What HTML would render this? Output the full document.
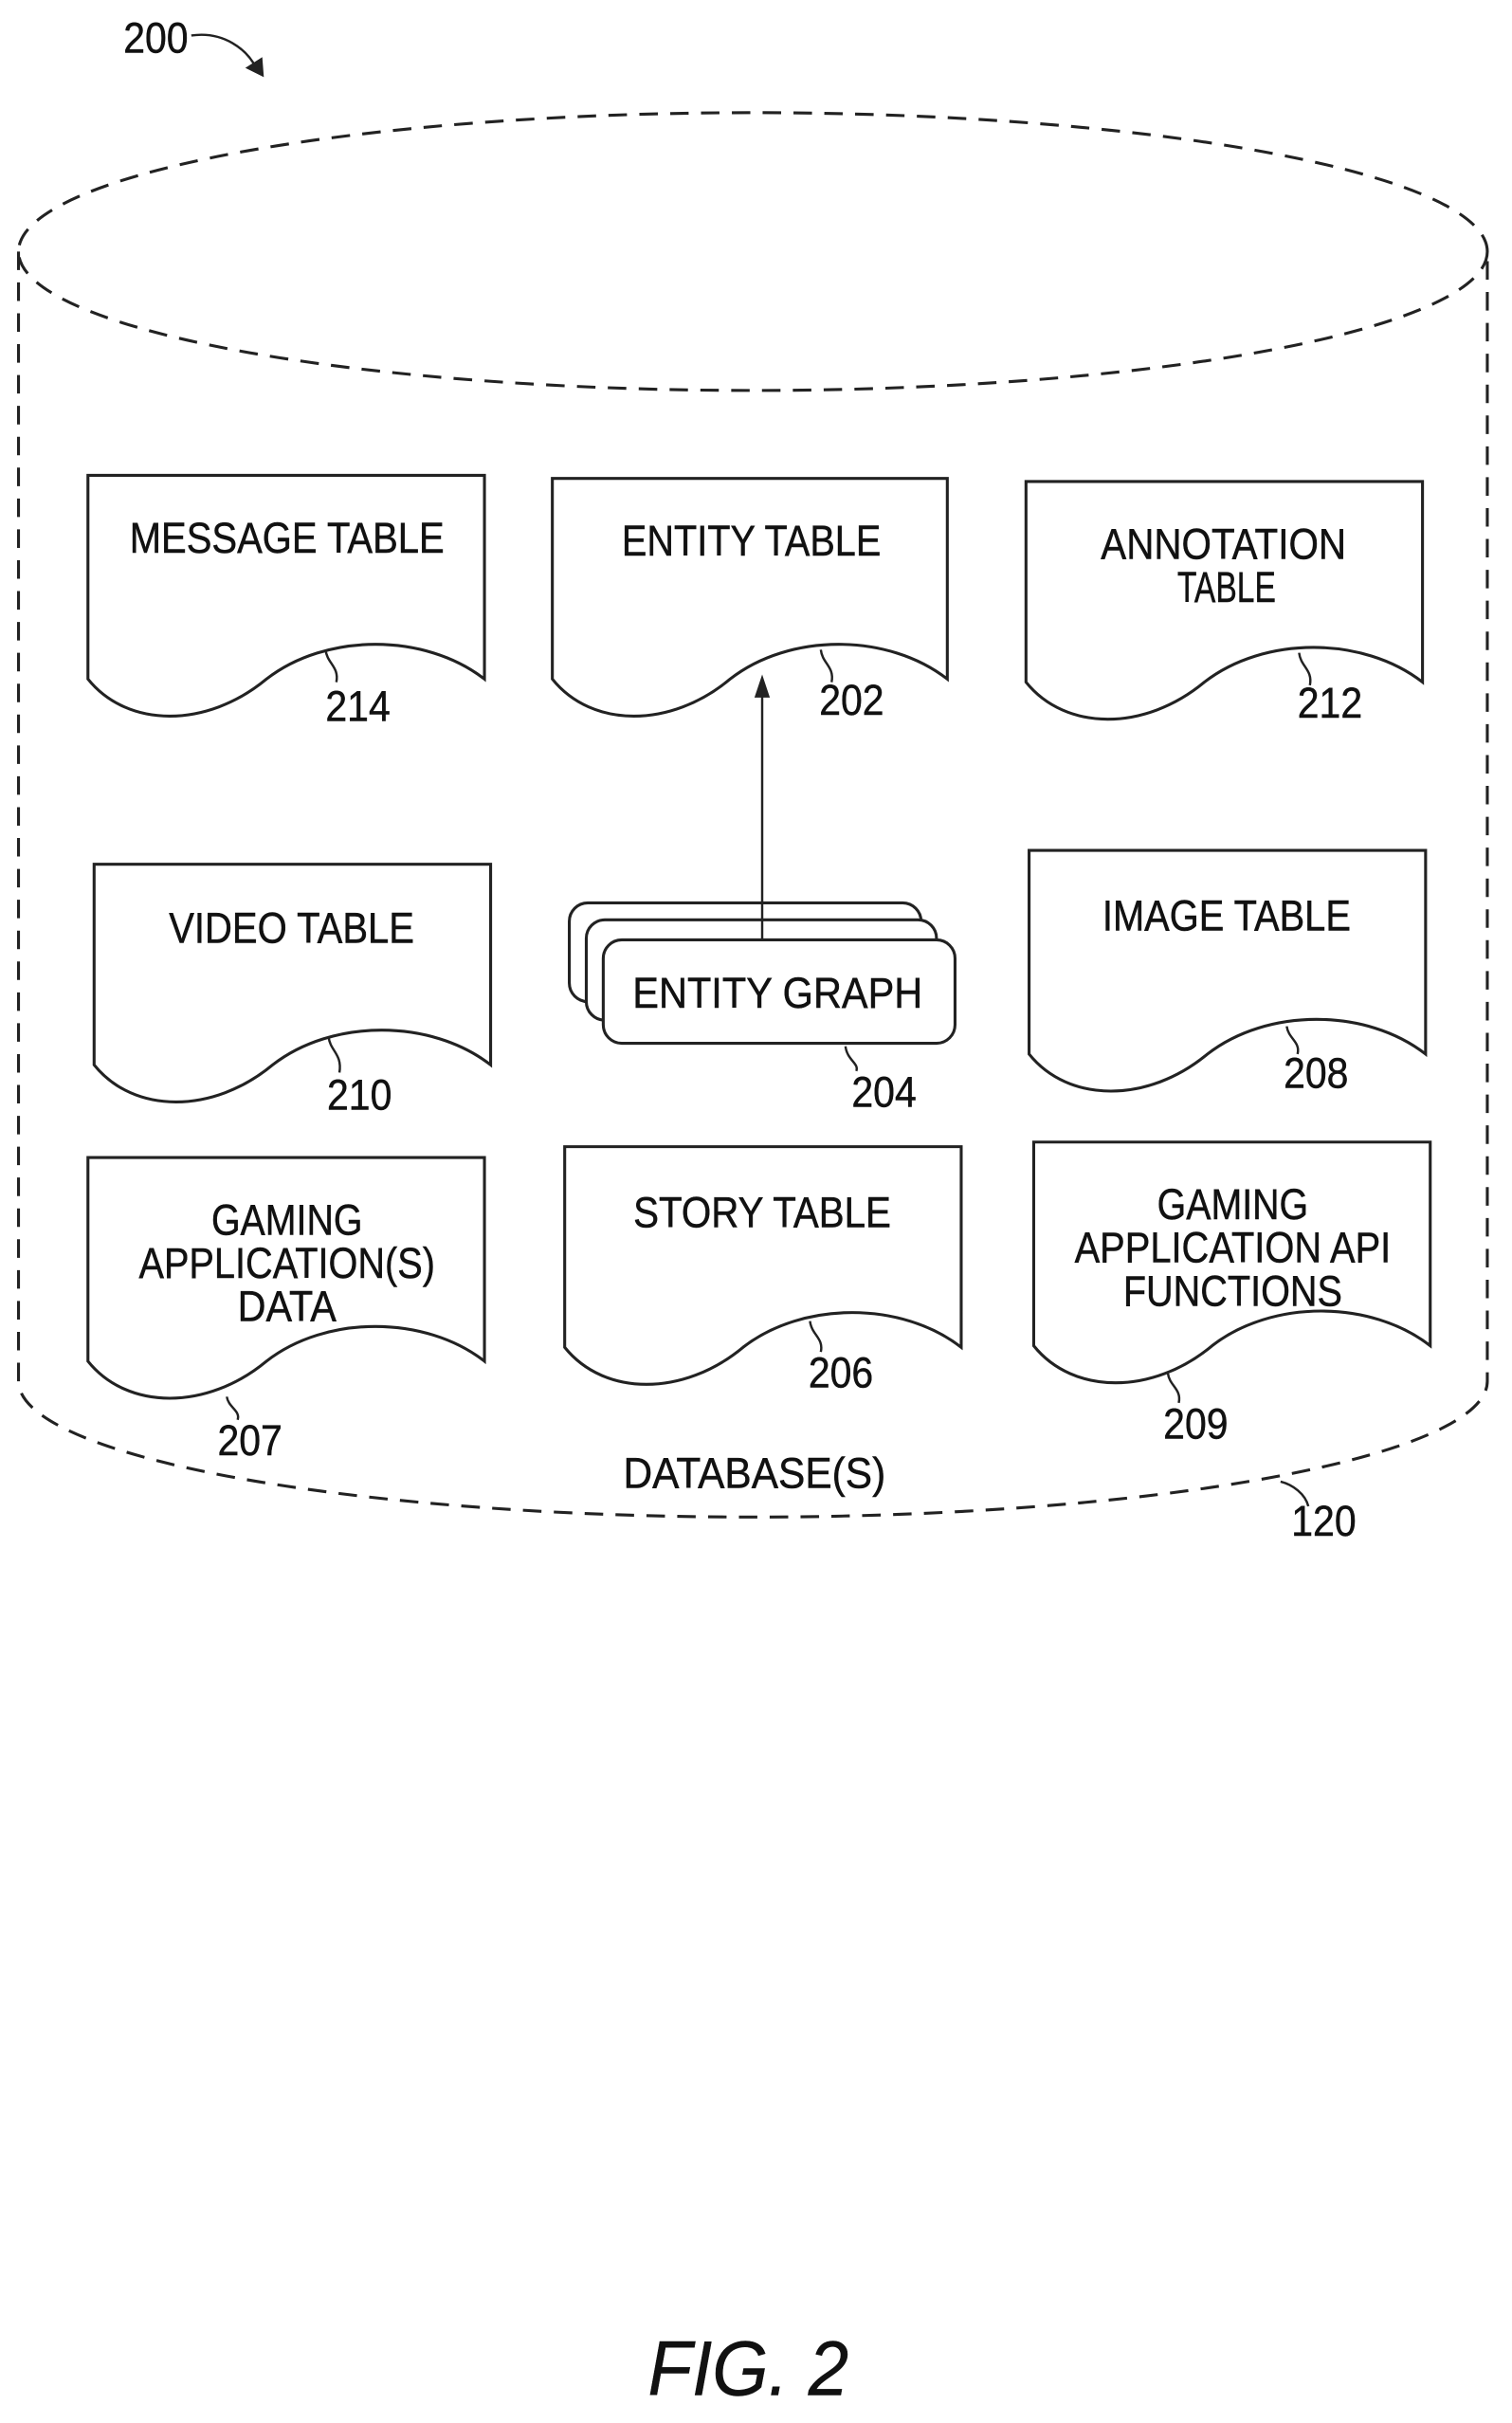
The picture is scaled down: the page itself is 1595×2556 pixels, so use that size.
<!DOCTYPE html>
<html><head><meta charset="utf-8"><style>
html,body{margin:0;padding:0;background:#fff;}
svg{display:block;}
text{font-family:"Liberation Sans",sans-serif;fill:#111;stroke:#111;stroke-width:0.3;}
</style></head><body>
<svg width="1595" height="2556" viewBox="0 0 980 1570" preserveAspectRatio="none" xmlns="http://www.w3.org/2000/svg">
<g fill="none" stroke="#222" stroke-width="1.9" stroke-dasharray="12,8">
<ellipse cx="488" cy="163" rx="476" ry="90"/>
<path d="M12,163 V895 A476,88 0 0 0 964,895 V163"/>
</g>
<g fill="none" stroke="#222" stroke-width="1.9" id="docs"></g>
<g font-size="28" text-anchor="middle">
<text x="186" y="358" textLength="204" lengthAdjust="spacingAndGlyphs">MESSAGE TABLE</text>
<text x="487" y="360" textLength="168" lengthAdjust="spacingAndGlyphs">ENTITY TABLE</text>
<text x="793" y="362" textLength="159" lengthAdjust="spacingAndGlyphs">ANNOTATION</text>
<text x="795" y="390" textLength="64" lengthAdjust="spacingAndGlyphs">TABLE</text>
<text x="232" y="467" textLength="42" lengthAdjust="spacingAndGlyphs">214</text>
<text x="552" y="463" textLength="42" lengthAdjust="spacingAndGlyphs">202</text>
<text x="862" y="465" textLength="42" lengthAdjust="spacingAndGlyphs">212</text>
<text x="189" y="611" textLength="159" lengthAdjust="spacingAndGlyphs">VIDEO TABLE</text>
<text x="795" y="603" textLength="161" lengthAdjust="spacingAndGlyphs">IMAGE TABLE</text>
<text x="233" y="719" textLength="42" lengthAdjust="spacingAndGlyphs">210</text>
<text x="573" y="717" textLength="42" lengthAdjust="spacingAndGlyphs">204</text>
<text x="853" y="705" textLength="42" lengthAdjust="spacingAndGlyphs">208</text>
<text x="186" y="800" textLength="98" lengthAdjust="spacingAndGlyphs">GAMING</text>
<text x="186" y="828" textLength="192" lengthAdjust="spacingAndGlyphs">APPLICATION(S)</text>
<text x="186" y="856" textLength="64" lengthAdjust="spacingAndGlyphs">DATA</text>
<text x="494" y="795" textLength="167" lengthAdjust="spacingAndGlyphs">STORY TABLE</text>
<text x="799" y="790" textLength="98" lengthAdjust="spacingAndGlyphs">GAMING</text>
<text x="799" y="818" textLength="205" lengthAdjust="spacingAndGlyphs">APPLICATION API</text>
<text x="799" y="846" textLength="142" lengthAdjust="spacingAndGlyphs">FUNCTIONS</text>
<text x="162" y="943" textLength="42" lengthAdjust="spacingAndGlyphs">207</text>
<text x="545" y="899" textLength="42" lengthAdjust="spacingAndGlyphs">206</text>
<text x="775" y="932" textLength="42" lengthAdjust="spacingAndGlyphs">209</text>
<text x="489" y="964" textLength="170" lengthAdjust="spacingAndGlyphs">DATABASE(S)</text>
<text x="858" y="995" textLength="42" lengthAdjust="spacingAndGlyphs">120</text>
<text x="101" y="34" textLength="42" lengthAdjust="spacingAndGlyphs">200</text>
<text x="485" y="1552" font-size="50" font-style="italic" textLength="130" lengthAdjust="spacingAndGlyphs">FIG. 2</text>
</g>
<g fill="#fff" stroke="#222" stroke-width="1.9">
<rect x="369" y="585" width="228" height="64" rx="12"/>
<rect x="380" y="596" width="227" height="65" rx="12"/>
<rect x="391" y="609" width="228" height="67" rx="12"/>
</g>
<text x="504" y="653" font-size="28" text-anchor="middle" textLength="188" lengthAdjust="spacingAndGlyphs">ENTITY GRAPH</text>
<g stroke="#222" stroke-width="1.5" fill="none">
<line x1="494" y1="609" x2="494" y2="446"/>
<path d="M124,23 C145,20 160,32 166,44"/>
<path d="M211,421 C212,430 220,432 218,442"/>
<path d="M532,421 C533,430 541,432 539,442"/>
<path d="M842,423 C843,432 851,434 849,444"/>
<path d="M213,672 C214,681 222,683 220,695"/>
<path d="M548,678 C549,687 557,689 555,694"/>
<path d="M834,665 C835,673 843,675 841,683"/>
<path d="M147,905 C148,912 156,914 154,920"/>
<path d="M525,856 C526,865 534,867 532,876"/>
<path d="M757,890 C758,898 766,900 764,909"/>
<path d="M830,960 C838,962 846,968 848,976"/>
</g>
<path d="M494,437 L489,452 L499,452 Z" fill="#222"/>
<path d="M171,50 L170,37 L159,44 Z" fill="#222"/>
<script>
var docs=[[57,314,308,440],[358,614,310,440],[665,922,312,442],[61,318,560,690],[667,924,551,683],[57,314,750,882],[366,623,743,873],[670,927,740,872]];
var g=document.getElementById('docs');
docs.forEach(function(d){var x1=d[0],x2=d[1],t=d[2],y=d[3],w=x2-x1;
function X(f){return (x1+f*w).toFixed(1);}
var p='M'+x1+','+t+' H'+x2+' V'+y+' C'+X(0.85)+','+(y-30)+' '+X(0.6)+','+(y-30)+' '+X(0.45)+','+y+' C'+X(0.3)+','+(y+32)+' '+X(0.1)+','+(y+32)+' '+x1+','+y+' Z';
var e=document.createElementNS('http://www.w3.org/2000/svg','path');e.setAttribute('d',p);e.setAttribute('fill','#fff');g.appendChild(e);});
</script>
</svg>
</body></html>
